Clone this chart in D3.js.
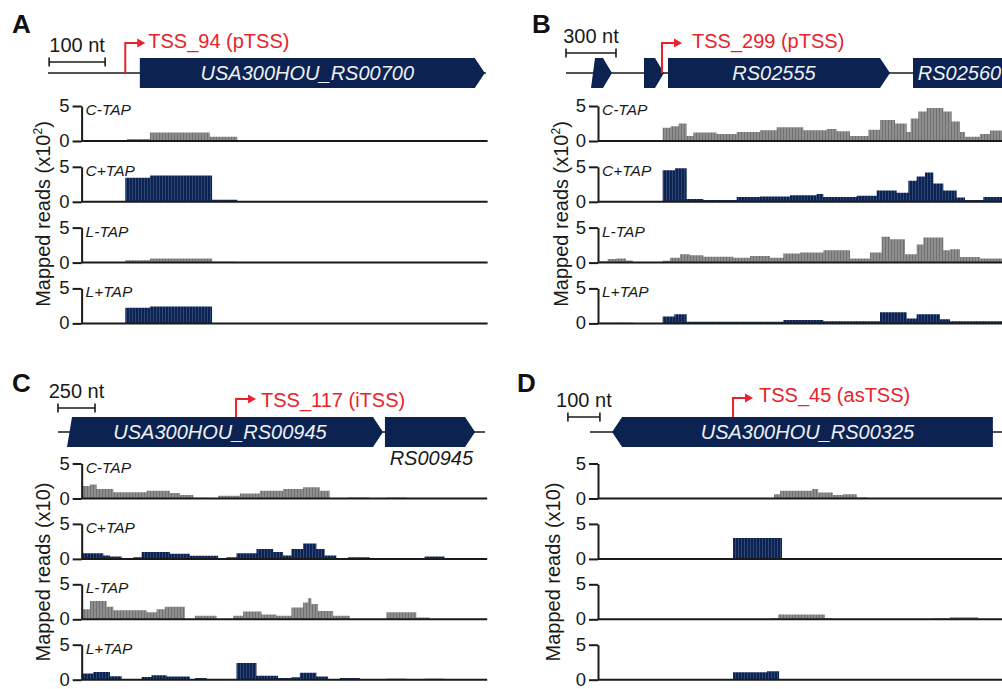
<!DOCTYPE html>
<html>
<head>
<meta charset="utf-8">
<script src="https://cdn.jsdelivr.net/npm/d3@7"></script>
<style>
body{margin:0;background:#fff}
text{font-family:"Liberation Sans",Arial,sans-serif}
</style>
</head>
<body>
<svg id="fig" width="1002" height="689"></svg>
<script>
// ---- data (genomic positions in nt, coverage as [start, end, reads]) ----
const trackNames = ["C-TAP", "C+TAP", "L-TAP", "L+TAP"]
const yTicks = [0, 5]

// panel A
const aGenes = [{label: "USA300HOU_RS00700", start: 164, end: 780, strand: 1}]
const aTss = {pos: 138, label: "TSS_94 (pTSS)"}
const aScaleNt = 100
const aCminus = [[141,182,0.3],[182,289,1.2],[289,338,0.6],[338,379,0.1]]
const aCplus  = [[138,182,3.45],[182,293,3.75],[293,338,0.3]]
const aLminus = [[138,182,0.35],[182,293,0.6],[293,338,0.12],[338,480,0.04]]
const aLplus  = [[138,182,2.25],[182,293,2.4]]

// panel B
const bGenes = [
  {label: "", start: 150, end: 276, strand: 1},
  {label: "", start: 468, end: 588, strand: 1},
  {label: "RS02555", start: 612, end: 1944, strand: 1},
  {label: "RS02560", start: 2082, end: 2700, strand: 1}
]
const bTss = {pos: 576, label: "TSS_299 (pTSS)"}
const bScaleNt = 300
const bCminus = [[580,628,1.9],[628,676,2.1],[676,724,2.5],[724,764,0.7],[764,904,1.2],[904,1024,1.0],[1024,1164,1.3],[1164,1264,1.55],[1264,1424,1.95],[1424,1564,1.55],[1564,1624,1.7],[1624,1704,1.4],[1704,1814,0.7],[1814,1884,1.6],[1884,1974,3.0],[1974,2044,2.5],[2044,2068,1.3],[2068,2114,3.2],[2114,2164,4.2],[2164,2264,4.7],[2264,2314,4.2],[2314,2364,2.8],[2364,2394,1.3],[2394,2484,0.6],[2484,2544,1.0],[2544,2616,1.5]]
const bCplus  = [[580,654,4.5],[654,724,4.8],[724,824,0.4],[824,1024,0.25],[1024,1164,0.7],[1164,1344,0.75],[1344,1504,0.95],[1504,1544,1.1],[1544,1744,0.7],[1744,1864,0.85],[1864,1984,1.6],[1984,2054,1.3],[2054,2104,3.0],[2104,2154,3.6],[2154,2204,4.2],[2204,2264,2.6],[2264,2344,1.6],[2344,2394,0.6],[2394,2504,0.25],[2504,2616,0.7]]
const bLminus = [[204,250,0.2],[250,300,0.5],[300,360,0.6],[360,402,0.3],[580,624,0.25],[624,684,0.7],[684,744,1.2],[744,824,1.05],[824,1004,0.85],[1004,1104,0.7],[1104,1224,0.95],[1224,1304,0.7],[1304,1404,1.3],[1404,1544,1.45],[1544,1704,1.75],[1704,1824,0.6],[1824,1894,1.45],[1894,1944,3.7],[1944,2034,3.35],[2034,2104,1.2],[2104,2144,2.6],[2144,2264,3.6],[2264,2304,1.75],[2304,2364,1.9],[2364,2484,0.8],[2484,2616,0.6]]
const bLplus  = [[204,402,0.1],[580,650,1.0],[650,724,1.3],[724,1304,0.25],[1304,1544,0.5],[1544,1884,0.3],[1884,2044,1.6],[2044,2104,0.7],[2104,2244,1.3],[2244,2304,0.6],[2304,2616,0.3]]

// panel C
const cGenes = [
  {label: "USA300HOU_RS00945", start: 61, end: 2196, strand: 1},
  {label: "RS00945", start: 2209, end: 2818, strand: 1, below: true}
]
const cTss = {pos: 1203, label: "TSS_117 (iTSS)"}
const cScaleNt = 250
const cCminus = [[160,216,1.8],[216,261,2.0],[261,374,1.35],[374,599,0.9],[599,756,1.1],[756,824,0.8],[824,914,0.5],[914,1004,0.1],[1082,1229,0.4],[1229,1364,0.7],[1364,1521,1.1],[1521,1656,1.35],[1656,1769,1.6],[1769,1836,1.1],[1960,2106,0.15],[2219,2354,0.15]]
const cCplus  = [[160,306,0.8],[306,351,0.5],[351,430,0.35],[509,565,0.25],[565,756,1.0],[756,891,0.75],[891,1082,0.45],[1139,1206,0.25],[1206,1341,0.8],[1341,1454,1.4],[1454,1521,1.0],[1521,1577,0.5],[1577,1656,1.4],[1656,1746,2.2],[1746,1802,1.4],[1802,1881,0.5],[1960,2106,0.25],[2477,2612,0.35]]
const cLminus = [[160,216,1.45],[216,329,2.6],[329,374,1.8],[374,599,1.3],[599,666,1.0],[666,722,1.45],[722,857,1.8],[925,1071,0.5],[1184,1251,0.5],[1251,1375,1.1],[1375,1476,0.7],[1476,1577,0.5],[1577,1656,1.7],[1656,1690,2.4],[1690,1712,3.0],[1712,1757,2.2],[1757,1859,1.2],[1859,1971,0.5],[2219,2421,1.0],[2421,2511,0.25]]
const cLplus  = [[160,239,0.9],[239,351,1.1],[351,430,0.5],[565,632,0.4],[632,734,0.65],[734,891,0.45],[925,1004,0.25],[1206,1341,2.4],[1341,1487,0.55],[1487,1577,0.25],[1577,1634,0.35],[1634,1746,1.0],[1746,1825,0.45],[1904,2039,0.25],[2219,2354,0.15],[2477,2612,0.15]]

// panel D
const dGenes = [{label: "USA300HOU_RS00325", start: 169, end: 1359, strand: -1}]
const dTss = {pos: 547, label: "TSS_45 (asTSS)"}
const dScaleNt = 100
const dCminus = [[675,694,0.6],[694,794,1.1],[794,813,1.35],[813,859,0.85],[859,891,0.5],[891,934,0.6],[934,966,0.15]]
const dCplus  = [[547,700,3.0]]
const dLminus = [[666,688,0.15],[688,834,0.7],[834,856,0.15],[1172,1225,0.1],[1225,1313,0.3]]
const dLplus  = [[547,653,1.05],[653,691,1.2],[691,788,0.08],[906,1047,0.08]]

// ---- drawing ----
let svg = d3.select("#fig")
const navy = "#0c2351", grey = "#8e8e8e", red = "#e8232b", ink = "#1a1a1a"

//stripe textures for the coverage bars
let defs = svg.append("defs")
function stripes(id, base, line){
    let p = defs.append("pattern").attr("id", id)
        .attr("patternUnits", "userSpaceOnUse").attr("width", 3).attr("height", 10)
    p.append("rect").attr("width", 3).attr("height", 10).attr("fill", base)
    p.append("rect").attr("width", 0.8).attr("height", 10).attr("fill", line)
}
stripes("navyS", navy, "#35507f")
stripes("greyS", grey, "#6a6a6a")

let panels = [
  {letter: "A", lx: 12, ly: 33, x: d3.scaleLinear([0, 785], [48, 487.6]), line: [0, 782], axisNt: 60,
   geneY: 73, trackY: 141, gap: 60.8, genes: aGenes, tss: aTss, tssBase: 73, tssTop: 43, tssGap: 3, tssDy: 5,
   barNt: 2, scaleNt: aScaleNt, barY: 62, tracks: [aCminus, aCplus, aLminus, aLplus],
   yl: [50, 214], exp: "2", names: true},
  {letter: "B", lx: 532, ly: 33, x: d3.scaleLinear([0, 2616], [566, 1002]), line: [0, 2616], axisNt: 192,
   geneY: 73, trackY: 141, gap: 60.8, genes: bGenes, tss: bTss, tssBase: 73, tssTop: 43, tssGap: 10, tssDy: 5,
   barNt: 0, scaleNt: bScaleNt, barY: 53, tracks: [bCminus, bCplus, bLminus, bLplus],
   yl: [568, 214], exp: "2", names: true},
  {letter: "C", lx: 12, ly: 392, x: d3.scaleLinear([0, 2900], [58, 487.2]), line: [0, 2885], axisNt: 160,
   geneY: 432, trackY: 498.5, gap: 60.4, genes: cGenes, tss: cTss, tssBase: 417, tssTop: 399, tssGap: 5, tssDy: 8,
   barNt: 0, scaleNt: cScaleNt, barY: 408, tracks: [cCminus, cCplus, cLminus, cLplus],
   yl: [50, 572], exp: null, names: true},
  {letter: "D", lx: 517, ly: 392, x: d3.scaleLinear([0, 1387.5], [558, 1002]), line: [100, 1387.5], axisNt: 125,
   geneY: 432, trackY: 498.5, gap: 60.4, genes: dGenes, tss: dTss, tssBase: 417, tssTop: 398, tssGap: 6, tssDy: 4,
   barNt: 31, scaleNt: dScaleNt, barY: 417, tracks: [dCminus, dCplus, dLminus, dLplus],
   yl: [560, 572], exp: null, names: false}
]

// special shapes: slanted left edges on a couple of genes
cGenes[0].slant = 5
bGenes[0].slant = 4
bGenes[0].head = 9
bGenes[1].head = 9

function genePath(g, xs, cy){
    let a = xs(g.start), b = xs(g.end), t = cy - 15, bt = cy + 15
    let h = g.head || 10, s = g.slant || 0
    if (g.strand > 0) return `M${a + s},${t}L${b - h},${t}L${b},${cy}L${b - h},${bt}L${a},${bt}Z`
    return `M${a},${cy}L${a + h},${t}L${b},${t}L${b},${bt}L${a + h},${bt}Z`
}

panels.forEach(p => {
    let xs = p.x
    let g = svg.append("g")

    //panel letter
    g.append("text").attr("x", p.lx).attr("y", p.ly)
        .attr("font-size", 26).attr("font-weight", "bold").attr("fill", "#111").text(p.letter)

    //scale bar
    let b0 = xs(p.barNt), b1 = xs(p.barNt + p.scaleNt)
    let sb = g.append("g").attr("stroke", ink).attr("stroke-width", 1.6)
    sb.append("line").attr("x1", b0).attr("x2", b1).attr("y1", p.barY).attr("y2", p.barY)
    sb.append("line").attr("x1", b0).attr("x2", b0).attr("y1", p.barY - 4.5).attr("y2", p.barY + 4.5)
    sb.append("line").attr("x1", b1).attr("x2", b1).attr("y1", p.barY - 4.5).attr("y2", p.barY + 4.5)
    g.append("text").attr("x", (b0 + b1) / 2).attr("y", p.barY - 10).attr("text-anchor", "middle")
        .attr("font-size", 20).attr("fill", ink).text(p.scaleNt + " nt")

    //genome line
    g.append("line").attr("x1", xs(p.line[0])).attr("x2", xs(p.line[1]))
        .attr("y1", p.geneY).attr("y2", p.geneY).attr("stroke", ink).attr("stroke-width", 1.6)

    //genes
    g.selectAll("path.gene").data(p.genes).join("path").attr("class", "gene")
        .attr("d", d => genePath(d, xs, p.geneY)).attr("fill", navy)
    p.genes.forEach(d => {
        if (!d.label) return
        let h = d.head || 10
        if (d.below) {
            g.append("text").attr("x", xs(d.end) - 2).attr("y", p.geneY + 33).attr("text-anchor", "end")
                .attr("font-size", 20).attr("font-style", "italic").attr("fill", ink).text(d.label)
        } else {
            let cx = d.strand > 0 ? (xs(d.start) + xs(d.end) - h) / 2 : (xs(d.start) + h + xs(d.end)) / 2
            g.append("text").attr("x", cx).attr("y", p.geneY + 7).attr("text-anchor", "middle")
                .attr("font-size", 20).attr("font-style", "italic").attr("fill", "#eef0f6").text(d.label)
        }
    })

    //TSS arrow
    let tx = xs(p.tss.pos), len = 20
    g.append("path").attr("d", `M${tx},${p.tssBase}V${p.tssTop}H${tx + len - 6}`)
        .attr("fill", "none").attr("stroke", red).attr("stroke-width", 2)
    g.append("path").attr("d", `M${tx + len},${p.tssTop}L${tx + len - 8},${p.tssTop - 4.5}L${tx + len - 8},${p.tssTop + 4.5}Z`)
        .attr("fill", red)
    g.append("text").attr("x", tx + len + p.tssGap).attr("y", p.tssTop + p.tssDy)
        .attr("font-size", 20).attr("fill", red).text(p.tss.label)

    //coverage tracks
    let ax = xs(p.axisNt), xEnd = xs(p.x.domain()[1])
    p.tracks.forEach((data, i) => {
        let base = p.trackY + i * p.gap
        let ys = d3.scaleLinear([0, 5], [base, base - 35])
        let path = d3.path()
        data.forEach(d => {
            let x0 = Math.max(ax, xs(d[0])), x1 = xs(d[1])
            path.rect(x0, ys(d[2]), x1 - x0, base - ys(d[2]))
        })
        g.append("path").attr("d", path.toString())
            .attr("fill", i % 2 ? "url(#navyS)" : "url(#greyS)")

        g.append("line").attr("x1", ax).attr("x2", xEnd).attr("y1", base).attr("y2", base)
            .attr("stroke", ink).attr("stroke-width", 2)

        let yAx = g.append("g").attr("transform", `translate(${ax},0)`)
            .call(d3.axisLeft(ys).tickValues(yTicks).tickFormat(d3.format("d"))
                .tickSize(9).tickSizeOuter(0).tickPadding(3))
        yAx.selectAll("path, line").attr("stroke", ink).attr("stroke-width", 2)
        yAx.selectAll("text").attr("font-size", 18.5).attr("fill", ink).attr("dy", "0.3em")
            .attr("font-family", '"Liberation Sans", Arial, sans-serif')

        if (p.names) {
            g.append("text").attr("x", ax + 4).attr("y", base - 26)
                .attr("font-size", 15.5).attr("font-style", "italic").attr("fill", ink).text(trackNames[i])
        }
    })

    //y-axis label
    let yl = g.append("text").attr("text-anchor", "middle").attr("font-size", 20).attr("fill", ink)
        .attr("transform", `translate(${p.yl[0]},${p.yl[1]}) rotate(-90)`)
    yl.append("tspan").text("Mapped reads (x10")
    if (p.exp) {
        yl.append("tspan").attr("font-size", 12).attr("dy", -8).text(p.exp)
        yl.append("tspan").attr("dy", 8).text(")")
    } else {
        yl.append("tspan").text(")")
    }
})
</script>
</body>
</html>
